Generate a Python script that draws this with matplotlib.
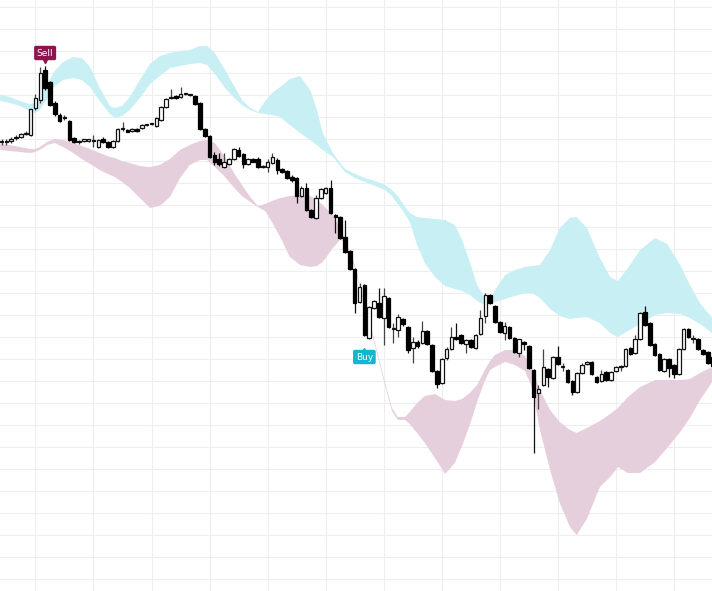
import numpy as np
import matplotlib
matplotlib.use("Agg")
import matplotlib.pyplot as plt

# daily candles (one per trading day)
opens = [45.8, 45.8, 45.9, 46.2, 46.3, 46.6, 46.5, 49.2, 50.0, 53.0,
         51.8, 49.7, 48.5, 48.2, 47.9, 46.2, 45.8, 45.9, 45.9, 45.9,
         45.3, 46.1, 45.8, 45.3, 45.9, 47.1, 47.0, 46.9, 47.1, 47.2,
         47.5, 47.6, 47.4, 48.0, 49.3, 50.2, 50.4, 50.3, 50.6, 50.5,
         50.4, 49.7, 47.1, 46.4, 44.5, 44.1, 43.3, 43.6, 44.1, 45.0,
         44.6, 43.6, 44.1, 44.1, 43.3, 43.3, 43.7, 44.0, 43.1, 42.9,
         42.3, 42.2, 40.4, 41.2, 39.0, 38.2, 40.2, 40.7, 41.2, 38.5,
         38.3, 36.3, 34.9, 33.1, 29.8, 31.5, 26.2, 29.2, 29.7, 28.2,
         30.2, 27.1, 27.0, 28.1, 27.3, 25.2, 25.8, 25.7, 26.9, 25.5,
         22.9, 21.7, 24.2, 25.1, 26.3, 26.5, 25.6, 26.0, 25.2, 26.6,
         28.4, 30.5, 29.4, 27.8, 26.7, 27.3, 26.2, 24.7, 25.8, 25.4,
         23.0, 20.7, 21.5, 23.1, 22.2, 24.3, 23.3, 23.0, 21.9, 20.8,
         22.7, 23.6, 23.8, 22.3, 21.9, 22.8, 22.0, 22.9, 23.3, 23.4,
         25.2, 24.7, 26.1, 28.8, 27.7, 25.6, 24.6, 22.9, 24.1, 23.5,
         22.6, 25.1, 27.1, 26.1, 26.1, 25.0, 24.8, 24.3]
highs = [46.1, 46.1, 46.3, 46.5, 46.7, 46.9, 49.1, 50.6, 53.3, 53.4,
         51.9, 49.9, 48.7, 48.5, 48.0, 46.3, 46.0, 46.1, 46.1, 46.5,
         46.1, 46.3, 45.9, 46.0, 47.2, 47.8, 47.1, 47.2, 47.2, 47.6,
         47.6, 47.7, 48.3, 49.4, 50.2, 51.1, 50.5, 51.3, 50.7, 50.6,
         50.5, 49.8, 47.2, 46.5, 44.8, 44.7, 44.7, 44.2, 45.2, 45.3,
         44.7, 44.2, 44.2, 44.3, 43.5, 44.1, 44.7, 44.2, 43.2, 43.0,
         42.5, 42.3, 41.4, 41.7, 39.1, 40.5, 41.2, 41.3, 42.0, 38.6,
         38.4, 38.0, 35.0, 33.2, 31.7, 31.6, 29.4, 30.0, 31.2, 31.2,
         30.3, 27.7, 28.6, 28.2, 27.4, 26.3, 26.0, 27.9, 27.0, 25.6,
         23.0, 24.2, 25.3, 27.3, 27.7, 26.6, 26.1, 26.1, 26.6, 29.0,
         30.7, 30.6, 29.5, 27.9, 27.8, 27.4, 26.3, 26.1, 25.9, 25.5,
         23.1, 21.5, 25.1, 23.2, 24.4, 25.4, 23.7, 23.1, 22.0, 22.8,
         23.7, 23.9, 23.9, 22.4, 23.0, 22.9, 22.9, 23.4, 23.5, 25.2,
         25.3, 26.5, 28.8, 29.4, 27.8, 25.7, 24.7, 24.2, 24.2, 23.6,
         25.2, 27.2, 27.2, 26.5, 26.2, 25.1, 24.9, 24.5]
lows = [45.5, 45.5, 45.7, 46.0, 46.2, 46.5, 46.4, 49.0, 49.7, 51.0,
        49.4, 48.4, 47.8, 48.0, 45.9, 45.7, 45.6, 45.8, 45.8, 45.3,
        45.2, 45.7, 45.2, 45.2, 45.8, 46.9, 46.8, 46.8, 46.8, 47.1,
        47.4, 47.5, 47.3, 47.9, 49.2, 50.1, 50.1, 50.2, 50.5, 50.4,
        49.5, 47.0, 46.3, 44.2, 43.5, 43.4, 43.2, 43.5, 44.0, 44.3,
        43.2, 43.5, 43.8, 43.2, 43.2, 42.8, 43.6, 42.6, 42.7, 42.1,
        41.8, 39.7, 40.3, 38.9, 38.2, 38.1, 40.1, 40.6, 38.6, 36.7,
        36.1, 34.7, 33.0, 28.7, 29.7, 26.4, 26.1, 29.1, 28.2, 25.5,
        27.2, 25.7, 26.3, 27.4, 24.7, 23.7, 25.2, 25.6, 25.5, 22.8,
        21.2, 21.6, 24.0, 25.0, 26.0, 25.6, 24.7, 25.2, 25.1, 26.5,
        27.7, 29.6, 27.7, 26.7, 26.0, 26.1, 24.7, 24.3, 25.0, 23.1,
        14.7, 19.1, 21.4, 21.3, 22.1, 23.5, 22.9, 21.7, 20.5, 20.7,
        22.6, 23.5, 22.5, 21.7, 21.8, 21.9, 21.9, 22.8, 22.9, 23.3,
        24.5, 24.6, 26.0, 27.4, 25.4, 24.4, 22.9, 22.8, 22.3, 22.2,
        22.5, 25.0, 26.2, 25.7, 25.0, 24.5, 23.6, 23.3]
closes = [45.8, 45.9, 46.1, 46.3, 46.6, 46.7, 49.1, 50.2, 52.7, 51.2,
          49.5, 48.6, 47.9, 48.2, 46.0, 45.8, 45.8, 46.1, 46.1, 45.9,
          46.0, 45.8, 45.3, 45.9, 47.1, 47.1, 46.8, 47.1, 46.9, 47.5,
          47.5, 47.6, 48.2, 49.3, 50.1, 50.3, 50.2, 50.6, 50.6, 50.5,
          49.6, 47.1, 46.4, 44.3, 43.8, 43.6, 43.8, 44.1, 45.1, 44.4,
          43.6, 44.1, 43.8, 43.3, 43.3, 43.8, 44.3, 43.0, 42.8, 42.2,
          42.0, 40.4, 41.2, 39.0, 38.3, 40.2, 41.1, 41.2, 38.7, 38.3,
          36.2, 34.8, 33.1, 29.7, 31.3, 26.5, 29.3, 29.9, 28.3, 30.4,
          27.3, 27.1, 28.3, 27.6, 25.0, 25.8, 25.4, 26.9, 25.6, 22.9,
          21.6, 24.1, 25.1, 26.3, 26.1, 25.7, 26.0, 25.3, 26.5, 28.2,
          30.5, 29.7, 27.8, 26.8, 27.4, 26.2, 24.8, 26.1, 25.6, 23.2,
          20.3, 21.1, 23.3, 22.3, 24.3, 23.6, 23.3, 21.8, 20.8, 22.7,
          23.5, 23.8, 22.6, 21.8, 22.6, 22.0, 22.8, 23.3, 23.3, 25.1,
          24.6, 26.1, 28.7, 27.5, 25.5, 24.5, 23.0, 24.1, 23.2, 22.6,
          25.1, 27.1, 26.3, 26.1, 25.1, 24.6, 23.7, 23.4]

# band outlines, sampled along the day axis
band_x = [-0.3, 1.7, 3.8, 5.9, 6.9, 7.9, 9.4, 11.0, 12.7, 14.8,
          16.6, 18.3, 20.3, 22.4, 23.4, 24.9, 26.5, 28.6, 30.7, 32.7,
          34.8, 36.9, 38.9, 41.0, 42.5, 44.1, 46.2, 48.3, 49.7, 51.4,
          53.0, 54.5, 55.9, 57.6, 59.6, 61.7, 63.8, 65.2, 66.4, 68.5,
          70.0, 71.0, 73.1, 75.1, 77.2, 79.3, 80.7, 81.9, 83.4, 84.4,
          85.9, 87.5, 89.6, 91.7, 93.7, 95.2, 96.8, 98.3, 99.9, 101.0,
          102.0, 104.1, 106.1, 108.2, 109.7, 111.3, 113.4, 115.4, 117.5, 118.9,
          121.0, 123.7, 125.8, 127.4, 129.5, 132.0, 135.1, 137.6, 140.3, 142.3,
          144.4, 146.9]
upper_hi = [50.5, 50.3, 49.9, 49.6, 49.7, 50.5, 51.6, 52.9, 53.8, 54.3,
            54.2, 53.3, 51.2, 49.4, 49.2, 49.4, 50.3, 52.0, 53.6, 54.4,
            54.7, 54.9, 55.0, 55.4, 55.4, 54.7, 53.0, 51.2, 50.0, 49.2,
            48.8, 49.9, 50.7, 51.3, 52.1, 52.4, 51.0, 49.0, 46.7, 44.7,
            43.7, 43.1, 42.6, 42.2, 41.9, 41.5, 41.0, 40.4, 39.3, 38.7,
            38.3, 38.2, 38.1, 38.0, 37.5, 36.0, 33.8, 31.5, 30.2, 29.9,
            31.0, 32.5, 33.0, 33.3, 33.4, 33.5, 35.0, 37.2, 38.2, 38.3,
            37.2, 34.2, 32.3, 31.9, 33.2, 35.0, 36.2, 35.6, 33.5, 31.5,
            29.7, 28.2]
upper_lo = [49.9, 49.7, 49.4, 48.9, 48.7, 49.0, 50.1, 51.4, 52.0, 52.2,
            52.0, 51.3, 49.9, 48.6, 48.2, 48.4, 49.0, 50.2, 51.6, 52.4,
            53.2, 53.4, 53.6, 53.7, 53.5, 52.6, 51.2, 50.1, 49.5, 49.0,
            48.7, 48.6, 48.5, 48.3, 47.5, 46.7, 46.0, 45.5, 45.0, 44.3,
            43.4, 42.8, 42.2, 41.8, 41.4, 41.0, 40.4, 39.6, 38.6, 37.8,
            35.5, 33.7, 32.3, 31.4, 31.1, 30.9, 30.5, 29.9, 29.5, 29.6,
            29.8, 30.1, 30.4, 30.7, 30.7, 30.2, 29.1, 28.4, 28.1, 28.2,
            28.3, 27.7, 26.7, 26.3, 26.9, 27.6, 28.5, 28.7, 28.6, 28.2,
            27.6, 26.7]
lower_hi = [45.6, 45.5, 45.3, 45.1, 45.1, 45.3, 45.8, 46.1, 46.0, 45.7,
            45.4, 45.1, 44.7, 44.3, 44.2, 43.9, 43.7, 43.4, 43.3, 43.5,
            44.1, 45.0, 45.5, 45.9, 46.0, 45.7, 44.3, 42.5, 41.5, 40.3,
            39.4, 39.6, 39.9, 40.2, 40.4, 40.5, 40.4, 40.0, 39.5, 38.5,
            37.2, 36.1, 33.4, 29.7, 25.7, 21.7, 19.2, 18.3, 18.3, 18.8,
            19.7, 20.4, 20.6, 20.0, 19.9, 20.1, 20.7, 21.5, 23.0, 23.9,
            24.5, 25.0, 25.0, 24.4, 23.2, 21.0, 19.0, 17.8, 17.0, 16.7,
            17.2, 17.9, 18.6, 19.2, 20.3, 21.3, 22.0, 22.0, 22.0, 22.1,
            22.7, 23.3]
lower_lo = [45.0, 44.9, 44.8, 44.7, 44.8, 45.0, 45.5, 45.7, 45.3, 44.7,
            44.1, 43.6, 43.0, 42.5, 42.3, 41.8, 41.2, 40.2, 39.2, 39.4,
            40.3, 42.2, 43.5, 44.0, 44.0, 43.3, 42.3, 41.1, 40.4, 39.8,
            39.3, 38.9, 37.8, 36.3, 34.3, 33.5, 33.3, 33.4, 33.8, 35.2,
            36.0, 35.8, 33.1, 29.4, 25.4, 21.4, 18.9, 18.0, 18.0, 17.6,
            16.7, 15.7, 14.2, 12.6, 13.7, 15.4, 17.5, 19.8, 21.9, 23.0,
            23.3, 23.8, 23.5, 22.9, 21.2, 17.0, 13.0, 9.7, 7.3, 6.5,
            8.1, 11.3, 12.3, 13.3, 12.7, 12.7, 13.8, 15.2, 16.8, 18.2,
            20.0, 21.8]

sell_day = 9
buy_day = 75

o = np.array(opens)
h = np.array(highs)
l = np.array(lows)
c = np.array(closes)
days = np.arange(len(o))
up = c >= o

fig = plt.figure(figsize=(7.12, 5.91), dpi=100)
ax = fig.add_axes([0, 0, 1, 1])

ax.fill_between(band_x, upper_lo, upper_hi, color="#c8eff4", lw=0, zorder=1)
ax.fill_between(band_x, lower_lo, lower_hi, color="#e6cfdc", lw=0, zorder=1)

# wicks
ax.vlines(days[up], l[up], h[up], color="#444444", lw=0.9, zorder=2)
ax.vlines(days[~up], l[~up], h[~up], color="#111111", lw=0.9, zorder=2)

# bodies
body_lo = np.minimum(o, c)
body_h = np.maximum(np.abs(c - o), 0.08)
ax.bar(days[up], body_h[up], bottom=body_lo[up], width=0.74,
       facecolor="white", edgecolor="#111111", linewidth=0.9, zorder=3)
ax.bar(days[~up], body_h[~up], bottom=body_lo[~up], width=0.74,
       facecolor="black", edgecolor="black", linewidth=0.9, zorder=3)

# signal labels
sell_y = h[sell_day] + 1.3
ax.plot(sell_day, sell_y - 0.75, marker="v", ms=3, color="#8e1450", zorder=4)
ax.text(sell_day, sell_y, "Sell", color="white", fontsize=6.5,
        ha="center", va="center", zorder=5,
        bbox=dict(boxstyle="round,pad=0.3,rounding_size=0.2",
                  fc="#8e1450", ec="none"))
buy_y = l[buy_day] - 2.1
ax.plot(buy_day, buy_y + 0.75, marker="^", ms=3, color="#12b6cf", zorder=4)
ax.text(buy_day, buy_y, "Buy", color="white", fontsize=6.5,
        ha="center", va="center", zorder=5,
        bbox=dict(boxstyle="round,pad=0.3,rounding_size=0.2",
                  fc="#12b6cf", ec="none"))

ax.set_xlim(-0.33, 146.87)
ax.set_ylim(0.9, 60.0)
ax.set_xticks(np.arange(7, 147, 12))
ax.set_yticks(np.arange(2.1, 60, 2.2))
ax.grid(True, color="#eeeeee", lw=0.8, zorder=0)
ax.set_axisbelow(True)
ax.tick_params(length=0, labelleft=False, labelbottom=False)
for s in ax.spines.values():
    s.set_visible(False)

fig.savefig("out.png", dpi=100)
